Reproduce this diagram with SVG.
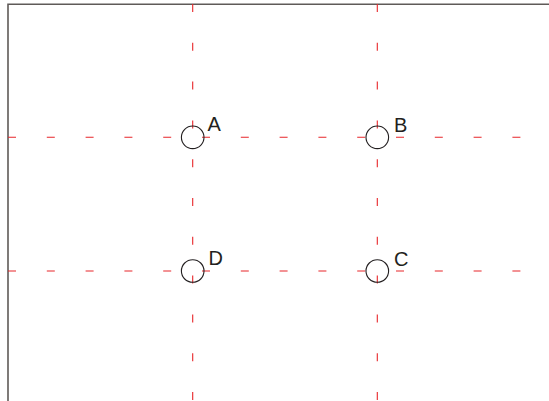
<svg xmlns="http://www.w3.org/2000/svg" width="549" height="401" viewBox="0 0 549 401">
<style>
.frame{stroke:#5f5a58;stroke-width:1.6;fill:none}
.axis{stroke:#e8262a;stroke-width:1.1;stroke-dasharray:8 30.8;fill:none}
.hole{fill:#fff;stroke:#231f20;stroke-width:1.1}
.lbl{font-family:"Liberation Sans",Arial,sans-serif;font-size:20px;fill:#231f20}
</style>
<rect width="549" height="401" fill="#fff"/>
<g id="frame">
<path class="frame" d="M7.2 4.2H549M8 4.2V401"/>
</g>
<g id="connectors">
<path class="axis" d="M8 137.3H549"/>
<path class="axis" d="M8 271H549"/>
<path class="axis" d="M192.7 4V401"/>
<path class="axis" d="M377.3 4V401"/>
</g>
<g id="A"><circle class="hole" cx="192.7" cy="137.3" r="11.3" fill-opacity="0"/><text class="lbl" x="207.5" y="130.5">A</text></g>
<g id="B"><circle class="hole" cx="377.3" cy="137.3" r="11.3" fill-opacity="0"/><text class="lbl" x="394" y="131.5">B</text></g>
<g id="D"><circle class="hole" cx="192.7" cy="271" r="11.3" fill-opacity="0"/><text class="lbl" x="208.5" y="264.5">D</text></g>
<g id="C"><circle class="hole" cx="377.3" cy="271" r="11.3" fill-opacity="0"/><text class="lbl" x="394" y="265.5">C</text></g>
</svg>
